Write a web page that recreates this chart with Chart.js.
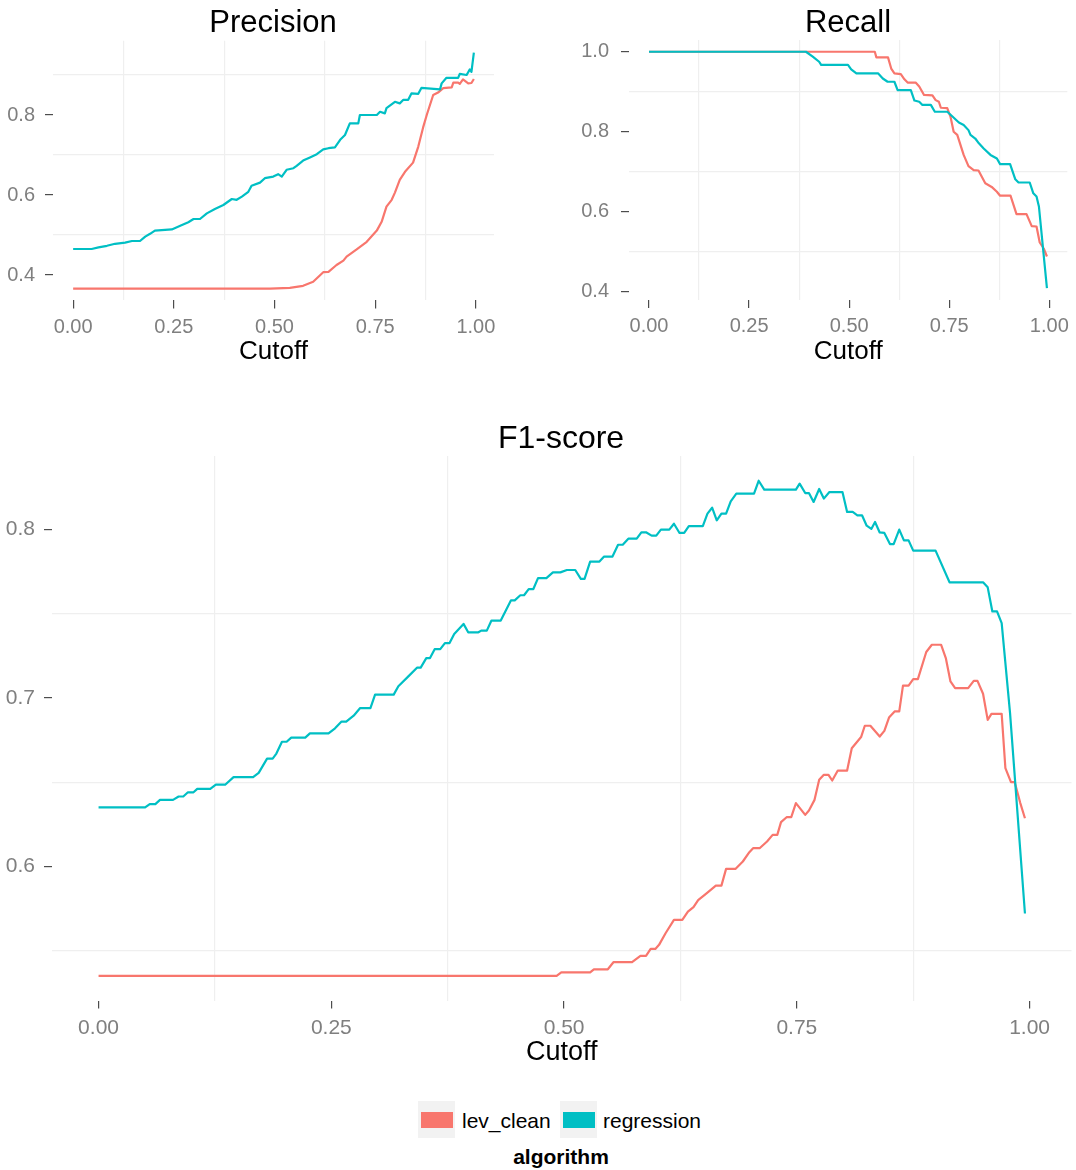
<!DOCTYPE html>
<html>
<head>
<meta charset="utf-8">
<script src="https://cdn.jsdelivr.net/npm/chart.js@4.4.0/dist/chart.umd.min.js"></script>
<style>
  body { margin: 0; background: #fff; font-family: "Liberation Sans", Arial, sans-serif; }
  #page { position: relative; width: 1076px; height: 1170px; overflow: hidden; }
  canvas { position: absolute; }
  .txt { position: absolute; white-space: nowrap; line-height: 1; color: #000; }
  .title { transform: translateX(-50%); }
  .key { position: absolute; width: 37px; height: 37px; background: #f2f2f2; }
  .key span { position: absolute; left: 3px; top: 11px; width: 32px; height: 16px; }
</style>
</head>
<body>
<div id="page">
  <canvas id="precisionChart" width="538" height="372" style="left:0;top:0"></canvas>
  <canvas id="recallChart" width="536" height="372" style="left:540px;top:0"></canvas>
  <canvas id="f1Chart" width="1076" height="680" style="left:0;top:400px"></canvas>

  <div class="txt title" style="left:273px;top:6px;font-size:31px">Precision</div>
  <div class="txt title" style="left:848px;top:6px;font-size:31px">Recall</div>
  <div class="txt title" style="left:561px;top:421px;font-size:32px">F1-score</div>

  <div class="key" style="left:418px;top:1101px"><span style="background:#F8766D"></span></div>
  <div class="txt" style="left:462px;top:1110px;font-size:21px">lev_clean</div>
  <div class="key" style="left:560px;top:1101px"><span style="background:#00BFC4"></span></div>
  <div class="txt" style="left:603px;top:1110px;font-size:21px">regression</div>
  <div class="txt title" style="left:561px;top:1146px;font-size:21px;font-weight:bold">algorithm</div>
</div>

<script>
// Tick values (labelled) and minor grid positions
const cutoffTicks = [0, 0.25, 0.5, 0.75, 1];
const cutoffMinor = [0.125, 0.375, 0.625, 0.875];
const precisionTicks = [0.4, 0.6, 0.8];
const precisionMinor = [0.5, 0.7, 0.9];
const recallTicks = [0.4, 0.6, 0.8, 1.0];
const recallMinor = [0.5, 0.7, 0.9];
const f1Ticks = [0.6, 0.7, 0.8];
const f1Minor = [0.55, 0.65, 0.75];

// Precision
const precLevCut = [0, 0.489, 0.538, 0.571, 0.596, 0.621, 0.634, 0.654, 0.671, 0.679,
    0.704, 0.729, 0.754, 0.766, 0.778, 0.791, 0.799, 0.811, 0.824, 0.844,
    0.857, 0.869, 0.878, 0.894, 0.906, 0.919, 0.940, 0.944, 0.956, 0.960,
    0.968, 0.981, 0.989, 0.995];
const precLevVal = [0.366, 0.366, 0.368, 0.373, 0.383, 0.407, 0.408, 0.425, 0.436, 0.446,
    0.464, 0.483, 0.511, 0.533, 0.571, 0.588, 0.606, 0.638, 0.658, 0.681,
    0.721, 0.769, 0.800, 0.850, 0.856, 0.867, 0.869, 0.881, 0.881, 0.878,
    0.889, 0.879, 0.880, 0.890];
const precRegCut = [0, 0.046, 0.063, 0.084, 0.104, 0.129, 0.146, 0.166, 0.179, 0.191,
    0.203, 0.245, 0.266, 0.286, 0.299, 0.315, 0.332, 0.352, 0.373, 0.394,
    0.406, 0.419, 0.435, 0.443, 0.464, 0.476, 0.497, 0.509, 0.518, 0.530,
    0.547, 0.555, 0.571, 0.588, 0.605, 0.621, 0.634, 0.650, 0.663, 0.675,
    0.687, 0.708, 0.712, 0.754, 0.762, 0.774, 0.778, 0.799, 0.811, 0.820,
    0.832, 0.840, 0.857, 0.865, 0.911, 0.915, 0.927, 0.956, 0.960, 0.977,
    0.985, 0.989, 0.995];
const precRegVal = [0.465, 0.465, 0.469, 0.473, 0.478, 0.481, 0.485, 0.485, 0.496, 0.503,
    0.511, 0.514, 0.523, 0.532, 0.540, 0.540, 0.554, 0.565, 0.575, 0.590,
    0.588, 0.596, 0.608, 0.623, 0.631, 0.642, 0.646, 0.652, 0.646, 0.663,
    0.667, 0.673, 0.686, 0.694, 0.702, 0.714, 0.717, 0.719, 0.738, 0.750,
    0.779, 0.779, 0.800, 0.800, 0.808, 0.804, 0.817, 0.833, 0.829, 0.838,
    0.838, 0.854, 0.853, 0.868, 0.864, 0.879, 0.893, 0.893, 0.903, 0.900,
    0.914, 0.908, 0.956];

// Recall
const recLevCut = [0, 0.564, 0.568, 0.597, 0.605, 0.613, 0.629, 0.638, 0.646, 0.666,
    0.675, 0.687, 0.708, 0.716, 0.724, 0.729, 0.745, 0.753, 0.761, 0.770,
    0.786, 0.798, 0.811, 0.823, 0.840, 0.856, 0.869, 0.877, 0.903, 0.918,
    0.943, 0.956, 0.968, 0.976, 0.986, 0.994];
const recLevVal = [1.0, 1.0, 0.986, 0.986, 0.958, 0.946, 0.944, 0.931, 0.923, 0.923,
    0.913, 0.892, 0.891, 0.879, 0.875, 0.860, 0.859, 0.838, 0.800, 0.792,
    0.742, 0.714, 0.704, 0.703, 0.671, 0.662, 0.650, 0.640, 0.640, 0.594,
    0.594, 0.564, 0.563, 0.523, 0.508, 0.488];
const recRegCut = [0, 0.392, 0.409, 0.425, 0.430, 0.497, 0.505, 0.518, 0.572, 0.584,
    0.596, 0.613, 0.621, 0.654, 0.663, 0.675, 0.683, 0.704, 0.714, 0.745,
    0.758, 0.774, 0.786, 0.798, 0.803, 0.815, 0.824, 0.836, 0.853, 0.869,
    0.877, 0.902, 0.915, 0.923, 0.951, 0.960, 0.968, 0.974, 0.994];
const recRegVal = [1.0, 1.0, 0.988, 0.975, 0.967, 0.967, 0.956, 0.946, 0.946, 0.933,
    0.925, 0.925, 0.904, 0.904, 0.878, 0.875, 0.867, 0.867, 0.850, 0.850,
    0.838, 0.823, 0.817, 0.804, 0.792, 0.783, 0.771, 0.758, 0.742, 0.733,
    0.719, 0.719, 0.681, 0.673, 0.673, 0.646, 0.638, 0.613, 0.409];

// F1-score
const f1LevCut = [0, 0.492, 0.497, 0.528, 0.532, 0.547, 0.553, 0.573, 0.582, 0.588,
    0.593, 0.598, 0.602, 0.609, 0.618, 0.627, 0.633, 0.639, 0.644, 0.653,
    0.663, 0.669, 0.674, 0.684, 0.692, 0.699, 0.703, 0.710, 0.718, 0.724,
    0.729, 0.733, 0.739, 0.744, 0.749, 0.759, 0.763, 0.769, 0.774, 0.779,
    0.784, 0.788, 0.794, 0.804, 0.809, 0.819, 0.823, 0.829, 0.839, 0.844,
    0.849, 0.855, 0.860, 0.864, 0.870, 0.875, 0.880, 0.889, 0.895, 0.905,
    0.910, 0.915, 0.920, 0.934, 0.940, 0.944, 0.950, 0.955, 0.959, 0.970,
    0.974, 0.980, 0.984, 0.990, 0.995];
const f1LevVal = [0.535, 0.535, 0.5371, 0.5371, 0.5389, 0.5389, 0.5431, 0.5431, 0.5468, 0.5468,
    0.551, 0.551, 0.5534, 0.5603, 0.5682, 0.5682, 0.5731, 0.5758, 0.580, 0.584,
    0.5886, 0.5886, 0.5985, 0.5985, 0.6029, 0.6084, 0.6108, 0.6108, 0.6148, 0.6187,
    0.6187, 0.6263, 0.6292, 0.6292, 0.6376, 0.6306, 0.6332, 0.6395, 0.6514, 0.6544,
    0.6544, 0.651, 0.6569, 0.6569, 0.6702, 0.6768, 0.6835, 0.6835, 0.6771, 0.6805,
    0.6884, 0.692, 0.692, 0.7073, 0.7073, 0.7112, 0.7112, 0.7273, 0.7316, 0.7316,
    0.7237, 0.7098, 0.7059, 0.7059, 0.7102, 0.7102, 0.7025, 0.687, 0.6906, 0.6906,
    0.6583, 0.65, 0.65, 0.6376, 0.6286];
const f1RegCut = [0, 0.050, 0.055, 0.061, 0.066, 0.080, 0.086, 0.091, 0.096, 0.102,
    0.106, 0.120, 0.126, 0.136, 0.145, 0.166, 0.172, 0.181, 0.187, 0.191,
    0.197, 0.202, 0.207, 0.222, 0.227, 0.247, 0.254, 0.261, 0.266, 0.274,
    0.281, 0.292, 0.297, 0.317, 0.322, 0.333, 0.342, 0.346, 0.352, 0.356,
    0.361, 0.367, 0.372, 0.377, 0.382, 0.392, 0.397, 0.408, 0.411, 0.417,
    0.422, 0.432, 0.443, 0.447, 0.453, 0.457, 0.462, 0.467, 0.472, 0.481,
    0.488, 0.496, 0.503, 0.512, 0.518, 0.522, 0.528, 0.538, 0.543, 0.552,
    0.558, 0.563, 0.569, 0.578, 0.583, 0.588, 0.594, 0.599, 0.604, 0.613,
    0.618, 0.624, 0.629, 0.634, 0.649, 0.654, 0.659, 0.664, 0.669, 0.674,
    0.679, 0.685, 0.704, 0.709, 0.715, 0.749, 0.753, 0.759, 0.763, 0.768,
    0.774, 0.779, 0.785, 0.799, 0.804, 0.810, 0.815, 0.820, 0.825, 0.830,
    0.834, 0.839, 0.844, 0.850, 0.854, 0.860, 0.865, 0.870, 0.875, 0.899,
    0.914, 0.950, 0.955, 0.960, 0.965, 0.970, 0.979, 0.995];
const f1RegVal = [0.635, 0.635, 0.637, 0.637, 0.6395, 0.6395, 0.6415, 0.6415, 0.644, 0.644,
    0.646, 0.646, 0.6485, 0.6485, 0.653, 0.653, 0.6555, 0.664, 0.664, 0.667,
    0.674, 0.674, 0.6765, 0.6765, 0.679, 0.679, 0.682, 0.686, 0.686, 0.6895,
    0.694, 0.694, 0.702, 0.702, 0.707, 0.713, 0.718, 0.718, 0.7237, 0.7237,
    0.729, 0.729, 0.7326, 0.7326, 0.738, 0.744, 0.739, 0.739, 0.740, 0.740,
    0.746, 0.746, 0.758, 0.758, 0.761, 0.761, 0.7647, 0.7647, 0.7712, 0.7712,
    0.7746, 0.7746, 0.776, 0.776, 0.7707, 0.7707, 0.781, 0.781, 0.784, 0.784,
    0.791, 0.791, 0.7946, 0.7946, 0.7984, 0.7984, 0.7964, 0.7964, 0.800, 0.800,
    0.8035, 0.798, 0.798, 0.802, 0.802, 0.8095, 0.813, 0.8055, 0.8095, 0.8095,
    0.8168, 0.8213, 0.8213, 0.829, 0.8237, 0.8237, 0.8273, 0.8217, 0.8217, 0.8164,
    0.8241, 0.8184, 0.8223, 0.8223, 0.8105, 0.8105, 0.8085, 0.8085, 0.8023, 0.8004,
    0.8045, 0.7983, 0.798, 0.7914, 0.7914, 0.800, 0.7936, 0.7936, 0.7875, 0.7875,
    0.7687, 0.7687, 0.7657, 0.7514, 0.7514, 0.7445, 0.691, 0.572];

const RED = '#F8766D';
const TEAL = '#00BFC4';
const FONT = '"Liberation Sans", Arial, sans-serif';

const pairs = (xs, ys) => xs.map((x, i) => ({ x: x, y: ys[i] }));
const hasValue = (list, v) => list.some(m => Math.abs(m - v) < 1e-6);

// Builds one ggplot-like panel: minor grid only, tick marks at labelled values
function makePanel(id, p) {
    const canvas = document.getElementById(id);
    const xAll = cutoffTicks.concat(cutoffMinor).sort((a, b) => a - b);
    const yAll = p.yTicks.concat(p.yMinor).sort((a, b) => a - b);

    const axisCommon = (major) => ({
        border: { display: false },
        grid: {
            color: ctx => (ctx.tick && hasValue(major, ctx.tick.value)) ? 'rgba(0,0,0,0)' : '#efefef',
            lineWidth: 1.2,
            tickColor: ctx => (ctx.tick && hasValue(major, ctx.tick.value)) ? '#4d4d4d' : 'rgba(0,0,0,0)',
            tickLength: 8,
            tickWidth: 1.2
        }
    });

    return new Chart(canvas.getContext('2d'), {
        type: 'line',
        data: {
            datasets: [
                { label: 'regression', data: pairs(p.regX, p.regY), borderColor: TEAL, order: 0 },
                { label: 'lev_clean', data: pairs(p.levX, p.levY), borderColor: RED, order: 1 }
            ]
        },
        options: {
            responsive: false,
            animation: false,
            devicePixelRatio: 1,
            layout: { padding: p.pad },
            elements: {
                point: { radius: 0, hoverRadius: 0 },
                line: { tension: 0, borderWidth: 2.2, borderJoinStyle: 'round', fill: false }
            },
            plugins: { legend: { display: false }, tooltip: { enabled: false }, title: { display: false } },
            scales: {
                x: Object.assign(axisCommon(cutoffTicks), {
                    type: 'linear',
                    min: -0.05,
                    max: 1.045,
                    afterBuildTicks: s => { s.ticks = xAll.map(v => ({ value: v })); },
                    afterFit: s => { s.height = p.xHeight; },
                    ticks: {
                        autoSkip: false,
                        maxRotation: 0,
                        padding: 7,
                        color: '#7f7f7f',
                        font: { family: FONT, size: p.tickSize },
                        callback: v => hasValue(cutoffTicks, v) ? Number(v).toFixed(2) : ''
                    },
                    title: {
                        display: true,
                        text: 'Cutoff',
                        color: '#000',
                        font: { family: FONT, size: p.axisSize },
                        padding: { top: 0, bottom: p.titlePad }
                    }
                }),
                y: Object.assign(axisCommon(p.yTicks), {
                    type: 'linear',
                    min: p.yMin,
                    max: p.yMax,
                    afterBuildTicks: s => { s.ticks = yAll.map(v => ({ value: v })); },
                    afterFit: s => { s.width = p.yWidth; },
                    ticks: {
                        autoSkip: false,
                        padding: p.yPad,
                        color: '#7f7f7f',
                        font: { family: FONT, size: p.tickSize },
                        callback: v => hasValue(p.yTicks, v) ? Number(v).toFixed(1) : ''
                    }
                })
            }
        }
    });
}

makePanel('precisionChart', {
    levX: precLevCut, levY: precLevVal, regX: precRegCut, regY: precRegVal,
    yTicks: precisionTicks, yMinor: precisionMinor, yMin: 0.3365, yMax: 0.9855,
    pad: { top: 40.8, right: 44, bottom: 0, left: 0 },
    yWidth: 53, xHeight: 71.6, tickSize: 20, axisSize: 26, titlePad: 5, yPad: 10
});

makePanel('recallChart', {
    levX: recLevCut, levY: recLevVal, regX: recRegCut, regY: recRegVal,
    yTicks: recallTicks, yMinor: recallMinor, yMin: 0.3795, yMax: 1.0296,
    pad: { top: 39.9, right: 5, bottom: 0, left: 0 },
    yWidth: 89, xHeight: 72.1, tickSize: 20, axisSize: 26, titlePad: 5, yPad: 12
});

makePanel('f1Chart', {
    levX: f1LevCut, levY: f1LevVal, regX: f1RegCut, regY: f1RegVal,
    yTicks: f1Ticks, yMinor: f1Minor, yMin: 0.5203, yMax: 0.8437,
    pad: { top: 56, right: 4.5, bottom: 0, left: 0 },
    yWidth: 52, xHeight: 79.4, tickSize: 21, axisSize: 27, titlePad: 11.5, yPad: 9
});
</script>
</body>
</html>
